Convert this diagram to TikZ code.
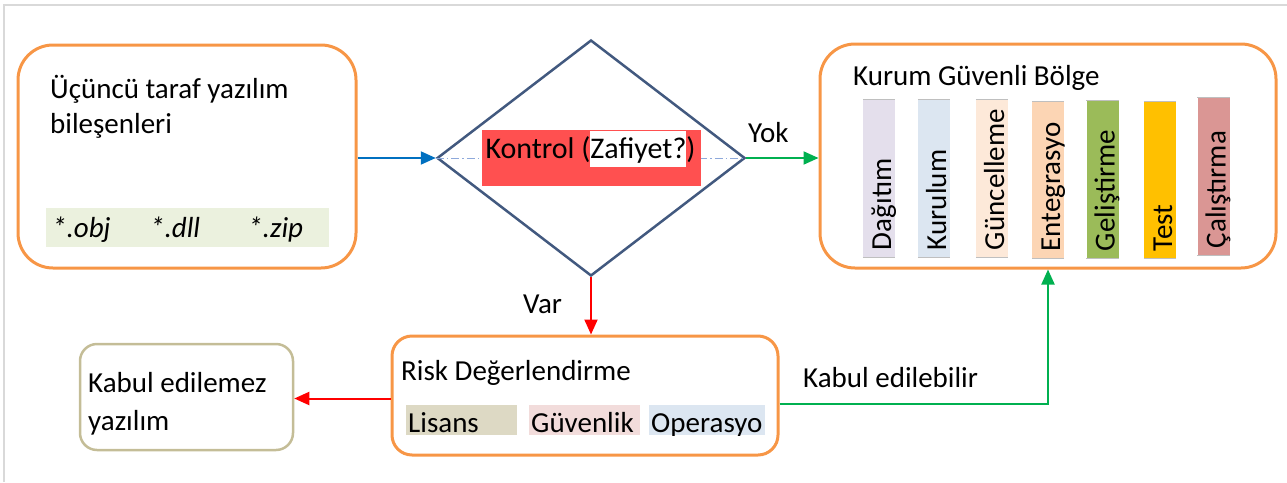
\documentclass[tikz,border=0pt]{standalone}
\usepackage{fontspec}
\setmainfont{Carlito}
\usepackage{tikz}
\usetikzlibrary{shapes.geometric,arrows.meta,positioning,calc}
\definecolor{BoxOrange}{HTML}{F79646}
\definecolor{BoxTan}{HTML}{C4BD97}
\definecolor{DiaBlue}{HTML}{42597F}
\definecolor{DashBlue}{HTML}{8EA9DB}
\definecolor{ArrBlue}{HTML}{0070C0}
\definecolor{ArrGreen}{HTML}{00B050}
\definecolor{ArrRed}{HTML}{FF0000}
\definecolor{CtrlRed}{HTML}{FF5050}
\definecolor{FrameGray}{HTML}{D9D9D9}
\definecolor{SoftGreen}{HTML}{EBF1DE}
\definecolor{TagTan}{HTML}{DDD9C4}
\definecolor{TagRose}{HTML}{F2DCDB}
\definecolor{TagBlue}{HTML}{DCE6F1}
\definecolor{BarLav}{HTML}{E4DFEC}
\definecolor{BarBlue}{HTML}{DCE6F1}
\definecolor{BarPeach}{HTML}{FDE9D9}
\definecolor{BarApricot}{HTML}{FCD5B4}
\definecolor{BarOlive}{HTML}{9BBB59}
\definecolor{BarGold}{HTML}{FFC000}
\definecolor{BarRose}{HTML}{DA9694}
\definecolor{BarEdge}{HTML}{BFBFBF}
\newcommand\dfont{\fontsize{29}{35}\selectfont}
\newcommand\zbox[1]{{\setlength\fboxsep{0pt}\colorbox{white}{\rule[-9pt]{0pt}{36pt}#1}}}
\tikzset{
  OB/.style={rectangle,rounded corners=35pt,draw=BoxOrange,line width=3pt,inner sep=0pt},
  txt/.style={anchor=base west,align=left,inner sep=0pt,font=\dfont},
  bar/.style={rectangle,inner sep=0pt,minimum width=32pt,minimum height=157pt},
  tag/.style={rectangle,inner sep=0pt,minimum height=30pt,
              path picture={\node[txt,minimum width=0pt,minimum height=0pt,fill=none,draw=none]
                at ([shift={(2,-2.5)}]path picture bounding box.south west) {#1};}},
  arr/.style={-{Triangle[length=15pt,width=13pt]},line width=2pt}
}

\begin{document}
\begin{tikzpicture}[x=1pt,y=-1pt,every node/.style={font=\dfont}]
  \useasboundingbox (0,0) rectangle (1287,482);
  \draw[FrameGray,line width=1.5pt] (4,482) -- (4,5) -- (1287,5);

  % third-party components
  \node[OB,minimum width=338pt,minimum height=223pt] (src) at (187,156.5) {};
  \node[txt] (srctxt) at (50,133) {Üçüncü taraf yazılım\\bileşenleri};
  \node[rectangle,fill=SoftGreen,inner sep=0pt,minimum width=283pt,minimum height=39pt] (ext) at (187.5,227.5) {};
  \node[txt,font=\dfont\itshape] (obj) at (52,237) {*.obj};
  \node[txt,font=\dfont\itshape] (dll) at (150,237) {*.dll};
  \node[txt,font=\dfont\itshape] (zip) at (248,237) {*.zip};

  % control decision
  \node[diamond,draw=DiaBlue,line width=2.5pt,inner sep=0pt,minimum width=308pt,minimum height=236pt] (chk) at (591,158) {};
  \draw[DashBlue,line width=1pt,dash pattern=on 8pt off 3pt on 1.5pt off 3pt] (chk.west) -- (chk.east);
  \node[rectangle,fill=CtrlRed,inner sep=0pt,minimum width=219pt,minimum height=56pt] (ctrl) at (591.5,158) {};
  \node[anchor=base,inner sep=0pt,font=\fontsize{30}{36}\selectfont] (ctrltxt) at ([xshift=-1pt]ctrl.center) {Kontrol (\zbox{Zafiyet?})};
  \draw[arr,ArrBlue] (src.east |- chk.west) -- (chk.west);

  % secure zone
  \node[OB,minimum width=456pt,minimum height=224pt] (kb) at (1048,156) {};
  \node[txt] (kbtxt) at (853,85) {Kurum Güvenli Bölge};
  \foreach \n/\x/\y/\c/\t in {1/879/178.5/BarLav/Dağıtım,2/934/178.5/BarBlue/Kurulum,
      3/992/178.5/BarPeach/Güncelleme,4/1048/180/BarApricot/Entegrasyo,
      5/1102.5/179.5/BarOlive/Geliştirme,6/1160/180/BarGold/Test,7/1213.5/176.5/BarRose/Çalıştırma}{
    \node[bar,fill=\c] (bar\n) at (\x,\y) {};
    \draw[BarEdge,line width=1pt] (bar\n.north west) -- (bar\n.north east) (bar\n.south west) -- (bar\n.south east);
    \node[txt,rotate=90] (bartxt\n) at ([shift={(-4,-7)}]bar\n.south east) {\t};
  }
  \node[txt] (yok) at (748,142) {Yok};
  \draw[arr,ArrGreen] (chk.east) -- (chk.east -| kb.west);

  % risk assessment
  \node[OB,rounded corners=20pt,minimum width=386pt,minimum height=119pt] (rb) at (585,395.5) {};
  \node[txt] (rbtxt) at (401,380) {Risk Değerlendirme};
  \node[tag=Lisans,fill=TagTan,minimum width=111pt] (lis) at (461.5,420) {};
  \node[tag=Güvenlik,fill=TagRose,minimum width=111pt] (guv) at (584.5,420) {};
  \node[tag=Operasyo,fill=TagBlue,minimum width=116pt] (ops) at (707,420) {};
  \node[txt] (var) at (523,313) {Var};
  \draw[arr,ArrRed] (chk.south) -- (chk.south |- rb.north);

  % rejected
  \node[rectangle,rounded corners=17pt,draw=BoxTan,line width=2.5pt,inner sep=0pt,minimum width=213pt,minimum height=106pt] (rej) at (186.5,397) {};
  \node[txt,font=\fontsize{29}{38}\selectfont] (rejtxt) at (88,430) {Kabul edilemez\\yazılım};
  \draw[arr,ArrRed] ([yshift=-3pt]rb.west) -- ([yshift=-3pt]rb.west -| rej.east);

  % accepted
  \node[txt] (acc) at (803,387) {Kabul edilebilir};
  \draw[arr,ArrGreen] ([yshift=-8.5pt]rb.east) -| (kb.south);
\end{tikzpicture}
\end{document}
